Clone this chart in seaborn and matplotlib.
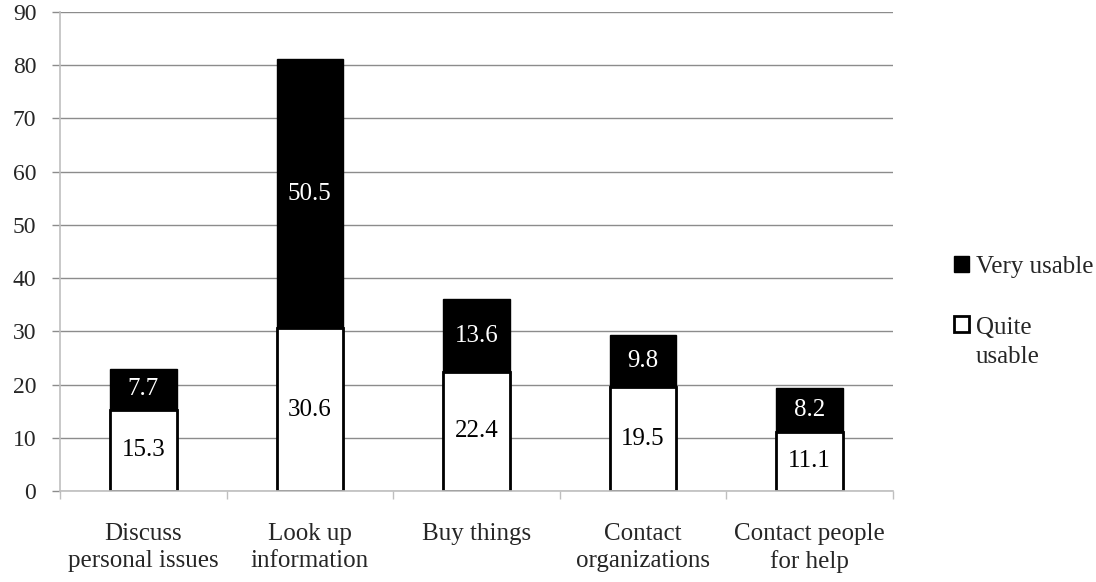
import matplotlib
matplotlib.use("Agg")
import matplotlib.pyplot as plt
import seaborn as sns
import numpy as np
from matplotlib.patches import Patch

categories = ["Discuss\npersonal issues", "Look up\ninformation", "Buy things",
              "Contact\norganizations", "Contact people\nfor help"]
quite_usable = [15.3, 30.6, 22.4, 19.5, 11.1]
very_usable = [7.7, 50.5, 13.6, 9.8, 8.2]
y_ticks = [0, 10, 20, 30, 40, 50, 60, 70, 80, 90]

sns.set_style("white")
plt.rcParams["font.family"] = ["Liberation Serif", "DejaVu Serif"]

FS = 18
totals = [q + v for q, v in zip(quite_usable, very_usable)]

fig = plt.figure(figsize=(10.96, 5.82), dpi=100)
ax = fig.add_axes([0.0547, 0.1564, 0.7601, 0.823])

# Stacked bars: full-height black bar, white lower segment drawn over it
sns.barplot(x=categories, y=totals, color="black", width=0.4, ax=ax,
            saturation=1, edgecolor="black", linewidth=1)
sns.barplot(x=categories, y=quite_usable, color="white", width=0.4, ax=ax,
            saturation=1, edgecolor="black", linewidth=2)

for i, (q, v) in enumerate(zip(quite_usable, very_usable)):
    ax.text(i, q / 2, f"{q:.1f}", ha="center", va="center", fontsize=FS, color="black")
    ax.text(i, q + v / 2, f"{v:.1f}", ha="center", va="center", fontsize=FS, color="white")

ax.set_ylim(0, 90)
ax.set_xlim(-0.5, len(categories) - 0.5)
ax.set_yticks(y_ticks)
ax.set_yticklabels([str(t) for t in y_ticks], fontsize=17)
ax.yaxis.grid(True, color="#8c8c8c", linewidth=1)
ax.set_axisbelow(True)

ax.set_xticks(range(len(categories)))
ax.set_xticklabels(categories, fontsize=FS, linespacing=1.3)
ax.tick_params(axis="x", which="major", length=0, pad=23)
ax.set_xticks(np.arange(-0.5, len(categories), 1.0), minor=True)
ax.tick_params(axis="x", which="minor", length=6, color="#bfbfbf", width=1, bottom=True)
ax.tick_params(axis="y", length=6, color="#8c8c8c", width=1, pad=11, left=True)

for side in ["top", "right"]:
    ax.spines[side].set_visible(False)
for side in ["left", "bottom"]:
    ax.spines[side].set_color("#bfbfbf")
    ax.spines[side].set_linewidth(1.2)
ax.set_xlabel("")
ax.set_ylabel("")

handles = [Patch(facecolor="black", edgecolor="black", linewidth=1),
           Patch(facecolor="white", edgecolor="black", linewidth=2)]
leg = fig.legend(handles, ["Very usable", "Quite\nusable"], loc="upper left",
                 bbox_to_anchor=(0.870, 1 - 256 / 582), frameon=False, fontsize=FS,
                 handlelength=0.6, handleheight=0.6, handletextpad=0.3,
                 labelspacing=1.55, borderaxespad=0, borderpad=0)
for t in leg.get_texts():
    t.set_linespacing(1.45)
# keep the second swatch level with the first line of its label
h2 = leg.legend_handles[1]
h2.set_y(h2.get_y() + 13)

fig.savefig("out.png", dpi=100)
